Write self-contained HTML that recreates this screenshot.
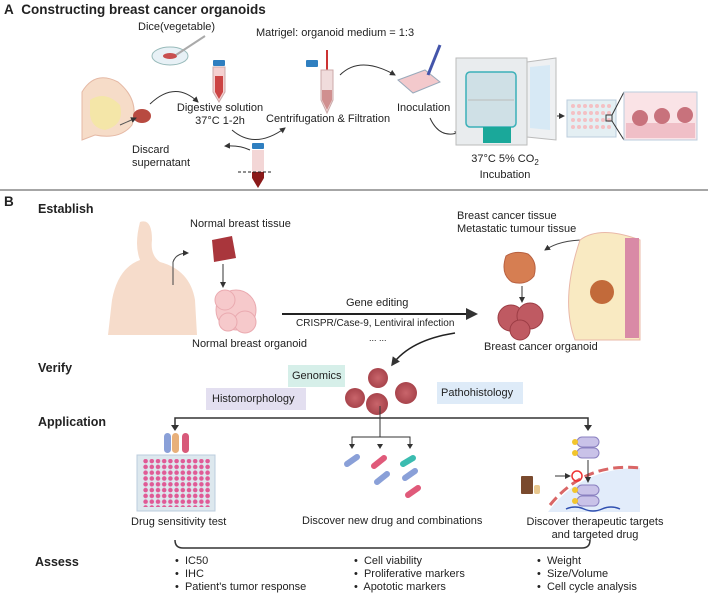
<!DOCTYPE html>
<html><head><meta charset="utf-8"><style>
body{margin:0;width:708px;height:596px;background:#fff;position:relative;overflow:hidden;font-family:"Liberation Sans",sans-serif;color:#222}
.t{position:absolute;font-size:11px;white-space:nowrap;line-height:13px}
.b{font-weight:bold;font-size:12.5px}
.c{text-align:center}
svg{position:absolute;left:0;top:0}
</style></head><body>
<svg width="708" height="596" viewBox="0 0 708 596">
<defs>
<marker id="ar" markerWidth="6" markerHeight="6" refX="5" refY="3" orient="auto"><path d="M0,0L6,3L0,6z" fill="#333"/></marker>
<radialGradient id="org" cx="50%" cy="50%" r="50%"><stop offset="0" stop-color="#c9656b"/><stop offset="1" stop-color="#a8444c"/></radialGradient>
<pattern id="dots" width="6.2" height="5.8" patternUnits="userSpaceOnUse"><circle cx="3" cy="2.9" r="2.3" fill="#e05a96"/></pattern>
</defs>
<!-- A: breast -->
<path d="M82,92 Q95,70 118,82 Q140,100 132,125 Q120,140 95,135 L82,140 Z" fill="#f6dcc8" stroke="#e5b9a5"/>
<path d="M90,100 Q105,90 120,105 Q125,125 105,130 Q92,128 90,115Z" fill="#f4e6a8"/>
<ellipse cx="142" cy="116" rx="9" ry="7" fill="#b84a40"/>
<path d="M120,125 L136,118" stroke="#555" marker-end="url(#ar)"/>
<ellipse cx="170" cy="56" rx="18" ry="9" fill="#e8f1f6" stroke="#9bb"/>
<ellipse cx="170" cy="56" rx="7" ry="3" fill="#c85050"/>
<line x1="176" y1="55" x2="205" y2="36" stroke="#aaa" stroke-width="2"/>
<path d="M150,104 Q175,80 198,102" fill="none" stroke="#333" marker-end="url(#ar)"/>
<rect x="213" y="60" width="12" height="6" rx="1" fill="#2f7fc0"/>
<path d="M213,67 H225 V92 L219,102 L213,92Z" fill="#f5d0d0" stroke="#caa"/>
<path d="M215,76 H223 V92 L219,99 L215,92Z" fill="#c44"/>
<rect x="306" y="60" width="12" height="7" rx="1" fill="#2f7fc0"/>
<line x1="327" y1="50" x2="327" y2="85" stroke="#c33" stroke-width="2"/>
<path d="M321,70 H333 V100 L327,113 L321,100Z" fill="#f0dcdc" stroke="#caa"/>
<path d="M322,90 H332 V100 L327,110 L322,100Z" fill="#d09090"/>
<path d="M340,75 Q360,55 395,75" fill="none" stroke="#333" marker-end="url(#ar)"/>
<path d="M232,130 Q255,150 285,128" fill="none" stroke="#333" marker-end="url(#ar)"/>
<rect x="252" y="143" width="12" height="6" rx="1" fill="#2f7fc0"/>
<path d="M252,150 H264 V178 L258,188 L252,178Z" fill="#f3d6d6"/>
<path d="M252,172 H264 V178 L258,188 L252,178Z" fill="#8b1a1a"/>
<line x1="238" y1="172" x2="272" y2="172" stroke="#222" stroke-dasharray="3,2"/>
<path d="M250,150 Q240,145 225,146" fill="none" stroke="#333" marker-end="url(#ar)"/>
<path d="M398,80 L425,70 L440,82 L413,93Z" fill="#f3c9cc" stroke="#9ab"/>
<line x1="428" y1="75" x2="440" y2="45" stroke="#4455aa" stroke-width="3"/>
<path d="M430,118 Q440,140 460,132" fill="none" stroke="#333" marker-end="url(#ar)"/>
<rect x="456" y="58" width="71" height="87" fill="#e9ecee" stroke="#bbb"/>
<rect x="466" y="72" width="50" height="55" rx="4" fill="#cfe0e6" stroke="#3bb0b8" stroke-width="1.5"/>
<line x1="468" y1="100" x2="514" y2="100" stroke="#bbb"/>
<rect x="483" y="127" width="28" height="16" fill="#1aa89a"/>
<path d="M527,62 L556,58 L556,140 L527,137Z" fill="#eef0f2" stroke="#bbb"/>
<path d="M530,67 L550,65 L550,130 L530,128Z" fill="#d7e9f5"/>
<path d="M557,116 L564,116" stroke="#333" marker-end="url(#ar)"/>
<rect x="567" y="100" width="49" height="37" fill="#e4eff3" stroke="#bcd"/>
<g fill="#f4c0c4">
<circle cx="573" cy="106" r="2"/><circle cx="579" cy="106" r="2"/><circle cx="585" cy="106" r="2"/><circle cx="591" cy="106" r="2"/><circle cx="597" cy="106" r="2"/><circle cx="603" cy="106" r="2"/><circle cx="609" cy="106" r="2"/>
<circle cx="573" cy="113" r="2"/><circle cx="579" cy="113" r="2"/><circle cx="585" cy="113" r="2"/><circle cx="591" cy="113" r="2"/><circle cx="597" cy="113" r="2"/><circle cx="603" cy="113" r="2"/><circle cx="609" cy="113" r="2"/>
<circle cx="573" cy="120" r="2"/><circle cx="579" cy="120" r="2"/><circle cx="585" cy="120" r="2"/><circle cx="591" cy="120" r="2"/><circle cx="597" cy="120" r="2"/><circle cx="603" cy="120" r="2"/><circle cx="609" cy="120" r="2"/>
<circle cx="573" cy="127" r="2"/><circle cx="579" cy="127" r="2"/><circle cx="585" cy="127" r="2"/><circle cx="591" cy="127" r="2"/><circle cx="597" cy="127" r="2"/><circle cx="603" cy="127" r="2"/><circle cx="609" cy="127" r="2"/>
</g>
<rect x="606" y="115" width="6" height="6" fill="none" stroke="#333"/>
<line x1="612" y1="115" x2="624" y2="92" stroke="#333"/><line x1="612" y1="121" x2="624" y2="140" stroke="#333"/>
<rect x="624" y="92" width="73" height="48" fill="#fae3e6" stroke="#bcd"/>
<rect x="626" y="123" width="69" height="15" fill="#f0bfc7"/>
<g fill="#c8727c"><circle cx="640" cy="118" r="8"/><circle cx="662" cy="116" r="8"/><circle cx="685" cy="115" r="8"/></g>
<line x1="0" y1="190" x2="708" y2="190" stroke="#888" stroke-width="1.5"/>
<!-- B human -->
<path d="M140,222 Q152,218 152,240 Q150,255 160,262 Q190,270 195,300 L197,335 L108,335 L112,300 Q118,268 140,260 Q134,245 140,222Z" fill="#f6dccb"/>
<path d="M173,285 L173,262 Q176,253 188,253" fill="none" stroke="#444" marker-end="url(#ar)"/>
<path d="M212,240 L232,236 L236,258 L214,262Z" fill="#a9363c"/>
<line x1="223" y1="264" x2="223" y2="287" stroke="#333" marker-end="url(#ar)"/>
<g fill="#f6c9cb" stroke="#eaaab0"><circle cx="236" cy="310" r="20"/><circle cx="225" cy="300" r="10"/><circle cx="245" cy="322" r="11"/><circle cx="228" cy="322" r="9"/></g>
<line x1="282" y1="314" x2="476" y2="314" stroke="#222" stroke-width="2" marker-end="url(#ar)"/>
<path d="M506,256 Q515,250 528,254 Q538,262 534,276 Q526,286 512,282 Q500,274 506,256Z" fill="#d67e52" stroke="#b86040"/>
<line x1="522" y1="286" x2="522" y2="302" stroke="#333" marker-end="url(#ar)"/>
<path d="M585,240 Q560,240 545,250" fill="none" stroke="#444" marker-end="url(#ar)"/>
<g fill="#bf5a62" stroke="#9c3d45"><circle cx="511" cy="318" r="13"/><circle cx="530" cy="316" r="13"/><circle cx="520" cy="330" r="10"/></g>
<path d="M580,240 Q600,225 640,240 L640,340 L575,340 Q560,300 580,240Z" fill="#f9eac2" stroke="#e9b8a8"/>
<rect x="625" y="238" width="14" height="100" fill="#d98aa6"/>
<circle cx="602" cy="292" r="12" fill="#c26a3a"/>
<path d="M455,333 Q410,340 392,365" fill="none" stroke="#222" stroke-width="1.5" marker-end="url(#ar)"/>
<rect x="288" y="365" width="57" height="22" fill="#d6efe9"/>
<rect x="206" y="388" width="100" height="22" fill="#e3dff0"/>
<rect x="437" y="382" width="86" height="22" fill="#deebf8"/>
<g fill="url(#org)"><circle cx="378" cy="378" r="10"/><circle cx="355" cy="398" r="10"/><circle cx="377" cy="404" r="11"/><circle cx="406" cy="393" r="11"/></g>
<path d="M175,428 V418 H588 V428" fill="none" stroke="#333" stroke-width="1.5"/>
<path d="M171,425 L175,431 L179,425Z M584,425 L588,431 L592,425Z" fill="#333"/>
<path d="M380,406 V437 M352,447 V437 H410 V447" fill="none" stroke="#333"/>
<path d="M349,444 L352,449 L355,444Z M377,444 L380,449 L383,444Z M407,444 L410,449 L413,444Z" fill="#333"/>
<rect x="164" y="433" width="7" height="20" rx="3.5" fill="#8aa0d8"/><rect x="172" y="433" width="7" height="20" rx="3.5" fill="#e8b07a"/><rect x="182" y="433" width="7" height="20" rx="3.5" fill="#d85a7a"/>
<rect x="137" y="455" width="78" height="56" fill="#dde8ee" stroke="#bcd"/>
<rect x="142" y="459" width="68" height="48" fill="url(#dots)"/>
<g stroke-width="6" stroke-linecap="round">
<line x1="347" y1="464" x2="357" y2="457" stroke="#8aa0d8"/><line x1="374" y1="466" x2="384" y2="458" stroke="#e05a7a"/><line x1="377" y1="482" x2="387" y2="474" stroke="#8aa0d8"/>
<line x1="403" y1="464" x2="413" y2="458" stroke="#3bbcb0"/><line x1="405" y1="478" x2="415" y2="471" stroke="#8aa0d8"/><line x1="408" y1="495" x2="418" y2="488" stroke="#e05a7a"/>
</g>
<!-- right cell -->
<path d="M548,512 Q580,468 640,468 V512Z" fill="#e2ecfa"/>
<path d="M550,505 Q585,462 640,468" fill="none" stroke="#d96666" stroke-width="3" stroke-dasharray="10,5"/>
<rect x="521" y="476" width="12" height="18" rx="1" fill="#7a4a2e"/>
<rect x="534" y="485" width="6" height="9" rx="2" fill="#e8c890"/>
<g fill="#c9c2e8" stroke="#8a80c0"><rect x="577" y="437" width="22" height="10" rx="5"/><rect x="577" y="448" width="22" height="10" rx="5"/><rect x="577" y="485" width="22" height="10" rx="5"/><rect x="577" y="496" width="22" height="10" rx="5"/></g>
<g fill="#f2c52e"><circle cx="575" cy="442" r="3"/><circle cx="575" cy="453" r="3"/><circle cx="575" cy="490" r="3"/><circle cx="575" cy="501" r="3"/></g>
<line x1="588" y1="460" x2="588" y2="482" stroke="#333" marker-end="url(#ar)"/>
<line x1="555" y1="476" x2="570" y2="476" stroke="#333" marker-end="url(#ar)"/>
<circle cx="577" cy="476" r="5" fill="none" stroke="#e33" stroke-width="1.5"/>
<path d="M566,509 Q575,505 584,509 Q593,513 602,509 Q611,505 620,509" fill="none" stroke="#3050b0" stroke-width="1.5"/>
<!-- bottom bracket -->
<path d="M175,540 Q175,548 183,548 H582 Q590,548 590,540" fill="none" stroke="#333" stroke-width="1.5"/>
</svg>
<div class="t b" style="left:4px;top:3px;font-size:13.5px">A&nbsp; Constructing breast cancer organoids</div>
<div class="t" style="left:138px;top:21px">Dice(vegetable)</div>
<div class="t" style="left:256px;top:27px">Matrigel: organoid medium = 1:3</div>
<div class="t c" style="left:165px;top:102px;width:110px">Digestive solution<br>37°C 1-2h</div>
<div class="t" style="left:266px;top:113px">Centrifugation &amp; Filtration</div>
<div class="t" style="left:397px;top:102px">Inoculation</div>
<div class="t" style="left:132px;top:144px">Discard<br>supernatant</div>
<div class="t c" style="left:455px;top:153px;width:100px">37°C 5% CO<sub style="font-size:8px">2</sub><br>Incubation</div>
<div class="t b" style="left:4px;top:195px;font-size:13.5px">B</div>
<div class="t b" style="left:38px;top:203px">Establish</div>
<div class="t" style="left:190px;top:218px">Normal breast tissue</div>
<div class="t" style="left:457px;top:210px">Breast cancer tissue<br>Metastatic tumour tissue</div>
<div class="t" style="left:346px;top:297px">Gene editing</div>
<div class="t" style="left:296px;top:317px;font-size:10px">CRISPR/Case-9, Lentiviral infection</div>
<div class="t" style="left:192px;top:338px">Normal breast organoid</div>
<div class="t" style="left:369px;top:332px;font-size:9px">... ...</div>
<div class="t" style="left:484px;top:341px">Breast cancer organoid</div>
<div class="t b" style="left:38px;top:362px">Verify</div>
<div class="t" style="left:292px;top:370px">Genomics</div>
<div class="t" style="left:212px;top:393px">Histomorphology</div>
<div class="t" style="left:441px;top:387px">Pathohistology</div>
<div class="t b" style="left:38px;top:416px">Application</div>
<div class="t" style="left:131px;top:516px">Drug sensitivity test</div>
<div class="t" style="left:302px;top:515px">Discover new drug and combinations</div>
<div class="t c" style="left:515px;top:516px;width:160px">Discover therapeutic targets<br>and targeted drug</div>
<div class="t b" style="left:35px;top:556px">Assess</div>
<div class="t" style="left:175px;top:555px">•&nbsp; IC50<br>•&nbsp; IHC<br>•&nbsp; Patient's tumor response</div>
<div class="t" style="left:354px;top:555px">•&nbsp; Cell viability<br>•&nbsp; Proliferative markers<br>•&nbsp; Apototic markers</div>
<div class="t" style="left:537px;top:555px">•&nbsp; Weight<br>•&nbsp; Size/Volume<br>•&nbsp; Cell cycle analysis</div>
</body></html>
